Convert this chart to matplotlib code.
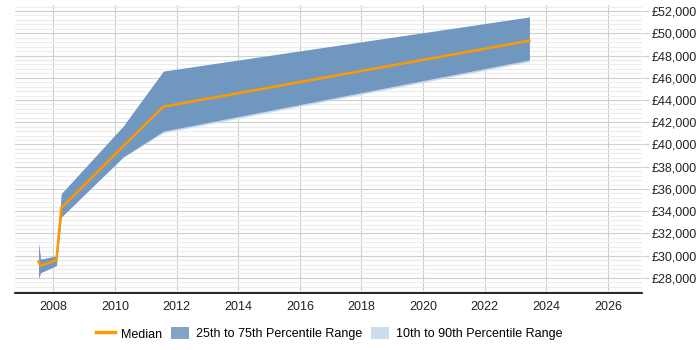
import matplotlib
matplotlib.use("Agg")
import matplotlib.pyplot as plt
from matplotlib.patches import Patch
from matplotlib.lines import Line2D
from matplotlib.ticker import MultipleLocator, FuncFormatter

plt.rcParams["font.family"] = ["Liberation Sans", "DejaVu Sans"]

years = [2007.52, 2007.59, 2008.1, 2008.26, 2010.27, 2011.57, 2023.45]
median = [29470, 29080, 29620, 34290, 39860, 43400, 49330]
p25 = [27970, 28480, 29110, 33480, 38890, 41200, 47610]
p75 = [31130, 29690, 29980, 35580, 41650, 46590, 51460]
p10 = [27970, 28480, 29110, 33480, 38850, 41050, 47450]
p90 = [31130, 29690, 29980, 35580, 41650, 46590, 51460]

year_ticks = list(range(2008, 2027, 2))

fig = plt.figure(figsize=(7, 3.5), dpi=100)
ax = fig.add_axes([0.022, 0.163, 0.895, 0.823])

ax.fill_between(years, p10, p90, color="#c6d8ec", lw=0, zorder=2)
ax.fill_between(years, p25, p75, color="#7097c0", lw=0, zorder=3)
ax.plot(years, median, color="#ff9900", lw=1.8, zorder=4)

ax.set_xlim(2006.77, 2027.1)
ax.set_ylim(26650, 52550)
ax.set_xticks(year_ticks)
ax.yaxis.set_major_locator(MultipleLocator(2000))
ax.yaxis.set_minor_locator(MultipleLocator(400))
ax.yaxis.set_major_formatter(FuncFormatter(lambda v, p: f"£{int(v):,}"))
ax.yaxis.tick_right()

ax.grid(axis="x", which="major", color="#cccccc", lw=0.8, zorder=0)
ax.grid(axis="y", which="major", color="#d0d0d0", lw=0.8, zorder=0)
ax.grid(axis="y", which="minor", color="#ececec", lw=0.8, zorder=0)

for s in ["top", "right", "left"]:
    ax.spines[s].set_visible(False)
ax.spines["bottom"].set_color("#000000")
ax.spines["bottom"].set_linewidth(1.2)

ax.tick_params(axis="x", length=0, pad=6, labelsize=9, colors="#222222")
ax.tick_params(axis="y", which="major", length=5, color="#d0d0d0", pad=2, labelsize=9, labelcolor="#222222")
ax.tick_params(axis="y", which="minor", length=0)

handles = [
    Line2D([0], [0], color="#ff9900", lw=2.5),
    Patch(facecolor="#85a3c6", edgecolor="none"),
    Patch(facecolor="#cbdcee", edgecolor="none"),
]
labels = ["Median", "25th to 75th Percentile Range", "10th to 90th Percentile Range"]
fig.legend(handles, labels, loc="lower center", bbox_to_anchor=(0.47, -0.005), ncol=3,
           frameon=False, fontsize=9, handlelength=1.5, handleheight=1.1, columnspacing=0.7,
           handletextpad=0.5)

fig.savefig("out.png", dpi=100)
